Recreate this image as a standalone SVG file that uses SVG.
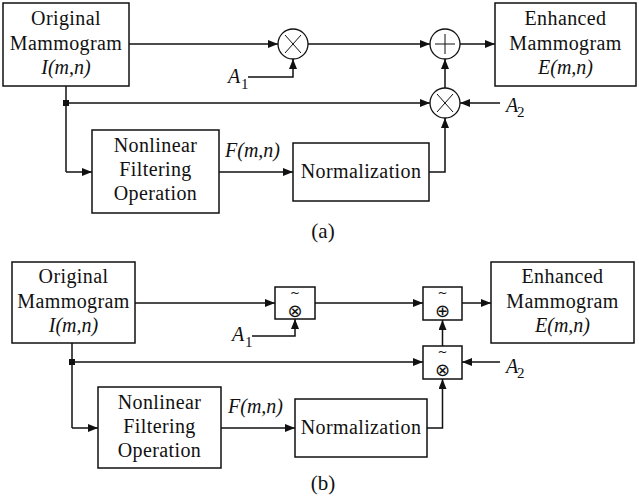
<svg xmlns="http://www.w3.org/2000/svg" width="639" height="503" viewBox="0 0 639 503">
<defs>
<marker id="arr" markerUnits="userSpaceOnUse" markerWidth="10" markerHeight="8" refX="10" refY="4" orient="auto">
<path d="M0,0 L10,4 L0,8 z" fill="#111"/>
</marker>
<style>
.box{fill:#fff;stroke:#111;stroke-width:1.5}
.circ{fill:#fff;stroke:#111;stroke-width:1.3}
.sym{stroke:#111;stroke-width:1}
.ln{fill:none;stroke:#111;stroke-width:1.5}
.ar{fill:none;stroke:#111;stroke-width:1.5;marker-end:url(#arr)}
.t{font-family:"Liberation Serif","Times New Roman",serif;font-size:20px;letter-spacing:0.4px;fill:#111;text-anchor:middle}
.it{font-family:"Liberation Serif","Times New Roman",serif;font-size:20px;font-style:italic;fill:#111}
.sub{font-family:"Liberation Serif","Times New Roman",serif;font-size:15px;fill:#111}
.cap{font-family:"Liberation Serif","Times New Roman",serif;font-size:21px;fill:#111;text-anchor:middle}
.op{font-family:"DejaVu Sans",sans-serif;font-size:18px;fill:#111;text-anchor:middle}
.tl{font-family:"DejaVu Sans",sans-serif;font-size:12px;fill:#111;text-anchor:middle}
</style>
</defs>
<rect width="639" height="503" fill="#fff"/>

<!-- ===== (a) ===== -->
<g id="connectors-a">
<path class="ar" d="M129,44 H278"/>
<path class="ar" d="M308,44 H430"/>
<path class="ar" d="M460,44 H495"/>
<path class="ar" d="M248,77 H293 V59"/>
<path class="ln" d="M66,86 V172"/>
<path class="ar" d="M66,172 H92"/>
<path class="ar" d="M66,103 H430"/>
<path class="ar" d="M445,88 V59"/>
<path class="ar" d="M500,103 H460"/>
<path class="ar" d="M219,172 H293"/>
<path class="ar" d="M429,172 H445 V118"/>
<rect x="63" y="100" width="6" height="6" fill="#111"/>
</g>
<g id="a-original">
<rect class="box" x="3" y="3" width="126" height="83"/>
<text class="t" x="66" y="25">Original</text>
<text class="t" x="66" y="49.5">Mammogram</text>
<text class="it" x="66" y="74" text-anchor="middle">I(m,n)</text>
</g>
<g id="a-enhanced">
<rect class="box" x="495" y="3" width="141" height="83"/>
<text class="t" x="565.5" y="25">Enhanced</text>
<text class="t" x="565.5" y="49.5">Mammogram</text>
<text class="it" x="565.5" y="74" text-anchor="middle">E(m,n)</text>
</g>
<g id="a-mult1">
<circle class="circ" cx="293" cy="44" r="15"/>
<path class="sym" d="M285,35 L301,53 M301,35 L285,53"/>
</g>
<g id="a-plus">
<circle class="circ" cx="445" cy="44" r="15"/>
<path class="sym" d="M445,34 V54 M435,44 H455"/>
</g>
<g id="a-mult2">
<circle class="circ" cx="445" cy="103" r="15"/>
<path class="sym" d="M437,94 L453,112 M453,94 L437,112"/>
</g>
<g id="a-nonlinear">
<rect class="box" x="92" y="130" width="127" height="83"/>
<text class="t" x="155.5" y="152">Nonlinear</text>
<text class="t" x="155.5" y="176">Filtering</text>
<text class="t" x="155.5" y="200">Operation</text>
</g>
<g id="a-normalization">
<rect class="box" x="293" y="143" width="136" height="58"/>
<text class="t" x="361" y="178">Normalization</text>
</g>
<g id="a-labels">
<text class="it" x="225" y="157">F(m,n)</text>
<text class="it" x="228" y="83">A</text><text class="sub" x="241" y="89">1</text>
<text class="it" x="506" y="112">A</text><text class="sub" x="517" y="117">2</text>
<text class="cap" x="323" y="238">(a)</text>
</g>

<!-- ===== (b) ===== -->
<g id="connectors-b">
<path class="ar" d="M135,303 H275"/>
<path class="ar" d="M315,303 H423"/>
<path class="ar" d="M462,303 H491"/>
<path class="ar" d="M252,336 H295 V319"/>
<path class="ln" d="M72,343 V428"/>
<path class="ar" d="M72,428 H98"/>
<path class="ar" d="M72,362 H423"/>
<path class="ar" d="M442.5,346 V320"/>
<path class="ar" d="M500,362 H462"/>
<path class="ar" d="M221,428 H295"/>
<path class="ar" d="M427,428 H442.5 V379"/>
<rect x="69" y="359" width="6" height="6" fill="#111"/>
</g>
<g id="b-original">
<rect class="box" x="12" y="262" width="123" height="81"/>
<text class="t" x="73.5" y="283">Original</text>
<text class="t" x="73.5" y="307.5">Mammogram</text>
<text class="it" x="73.5" y="332" text-anchor="middle">I(m,n)</text>
</g>
<g id="b-enhanced">
<rect class="box" x="491" y="262" width="143" height="81"/>
<text class="t" x="562.5" y="283">Enhanced</text>
<text class="t" x="562.5" y="307.5">Mammogram</text>
<text class="it" x="562.5" y="332" text-anchor="middle">E(m,n)</text>
</g>
<g id="b-mult1">
<rect class="box" x="275" y="287" width="40" height="32"/>
<text class="tl" x="295" y="296.5">~</text>
<text class="op" x="295" y="316.5">⊗</text>
</g>
<g id="b-plus">
<rect class="box" x="423" y="287" width="39" height="33"/>
<text class="tl" x="442.5" y="296.5">~</text>
<text class="op" x="442.5" y="316.5">⊕</text>
</g>
<g id="b-mult2">
<rect class="box" x="423" y="346" width="39" height="33"/>
<text class="tl" x="442.5" y="355.5">~</text>
<text class="op" x="442.5" y="375.5">⊗</text>
</g>
<g id="b-nonlinear">
<rect class="box" x="98" y="387" width="123" height="81"/>
<text class="t" x="159.5" y="409">Nonlinear</text>
<text class="t" x="159.5" y="433">Filtering</text>
<text class="t" x="159.5" y="457">Operation</text>
</g>
<g id="b-normalization">
<rect class="box" x="295" y="399" width="132" height="58"/>
<text class="t" x="361" y="434">Normalization</text>
</g>
<g id="b-labels">
<text class="it" x="228" y="413">F(m,n)</text>
<text class="it" x="232" y="341">A</text><text class="sub" x="245" y="347">1</text>
<text class="it" x="506" y="373">A</text><text class="sub" x="517" y="378">2</text>
<text class="cap" x="323" y="490">(b)</text>
</g>
</svg>
